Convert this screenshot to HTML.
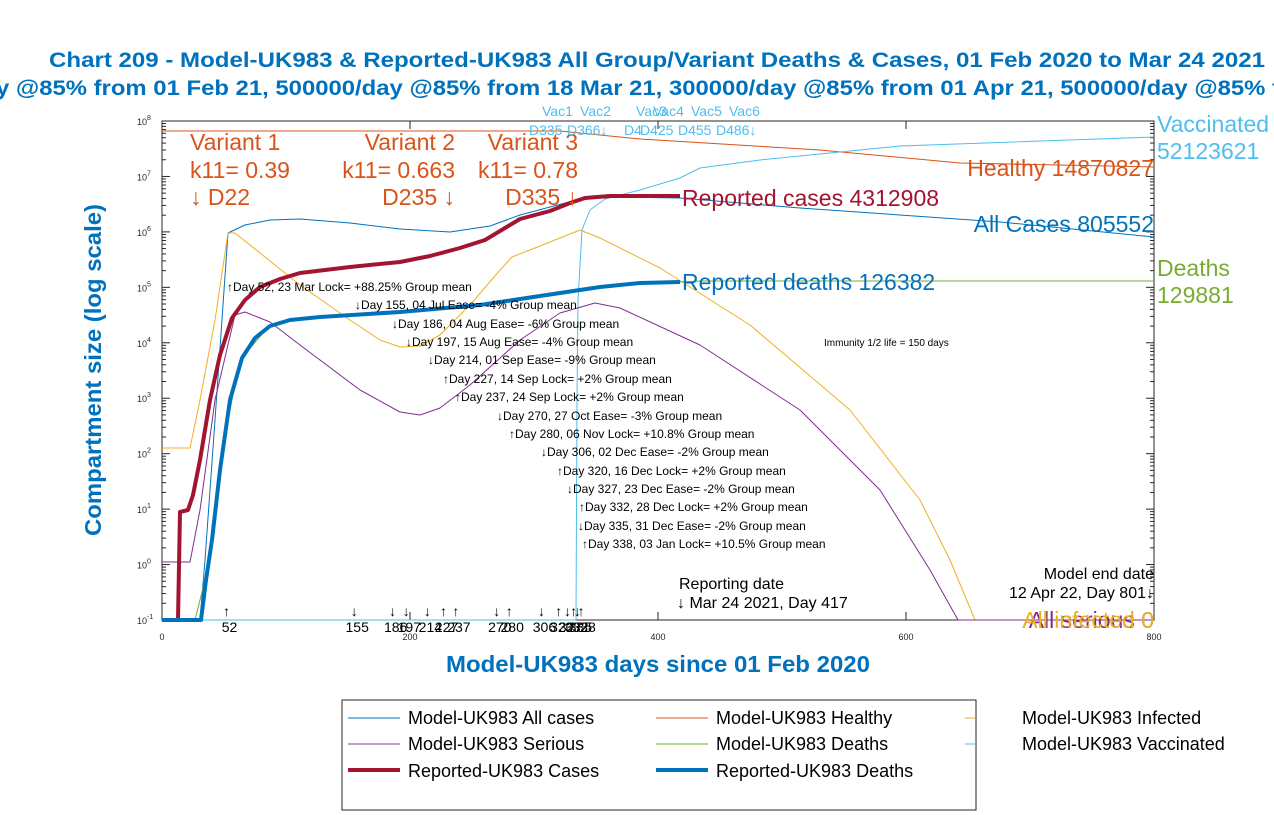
<!DOCTYPE html>
<html><head><meta charset="utf-8"><style>
body{margin:0;background:#fff}
svg{display:block;font-family:"Liberation Sans",sans-serif}
</style></head><body>
<svg id="s" width="1274" height="815" viewBox="0 0 1274 815" xmlns="http://www.w3.org/2000/svg">
<rect width="1274" height="815" fill="#fff"/>
<text x="49" y="67" font-size="21" font-weight="bold" fill="#0072bd" textLength="1216" lengthAdjust="spacingAndGlyphs">Chart 209 - Model-UK983 &amp; Reported-UK983 All Group/Variant Deaths &amp; Cases, 01 Feb 2020 to Mar 24 2021</text>
<text x="-4" y="95" font-size="21" font-weight="bold" fill="#0072bd" textLength="1284" lengthAdjust="spacingAndGlyphs">y @85% from 01 Feb 21, 500000/day @85% from 18 Mar 21, 300000/day @85% from 01 Apr 21, 500000/day @85% f</text>

<g id="ax" stroke="#262626" stroke-width="1" fill="none">
<rect x="162" y="121" width="992" height="499"/>
</g>
<g font-size="9" fill="#262626" id="ylab"></g>
<g font-size="9" fill="#262626" text-anchor="middle">
<text x="162" y="640">0</text><text x="410" y="640">200</text><text x="658" y="640">400</text><text x="906" y="640">600</text><text x="1154" y="640">800</text>
</g>

<g fill="none" stroke-linejoin="round">
<polyline stroke="#d95319" stroke-width="1" points="162,131 560,131 640,139 820,150 960,163 1154,167"/>
<polyline stroke="#4dbeee" stroke-width="1" points="162,620 576,620 577,400 578,300 582,230 590,210 605,199 640,190 680,178 700,168 760,160 900,146 1154,137"/>
<polyline stroke="#0072bd" stroke-width="1" points="200,620 205,560 215,420 228,233 245,225 270,220 300,219 350,223 400,229 450,232 490,226 520,215 550,207 580,199 620,197 680,198 800,208 1000,222 1154,237"/>
<polyline stroke="#edb120" stroke-width="1" points="162,448 190,448 200,400 215,320 228,233 235,233 250,245 300,285 350,320 380,340 400,347 420,346 440,335 470,305 500,270 512,257 540,246 580,230 600,238 660,268 750,325 850,410 920,500 950,560 975,620 1154,620"/>
<polyline stroke="#7e2f8e" stroke-width="1" points="162,562 190,562 200,510 215,400 235,315 245,312 270,322 300,345 360,390 400,412 420,415 440,408 470,385 520,340 560,313 595,303 620,308 700,345 800,410 880,490 930,570 958,620 1154,620"/>
<polyline stroke="#77ac30" stroke-width="1" points="195,620 210,560 220,460 240,360 270,325 300,318 400,312 480,305 540,296 580,290 640,284 700,281 1154,281"/>
<polyline stroke="#a2142f" stroke-width="4" points="178,620 180,512 188,510 193,495 200,460 210,400 220,355 232,318 245,300 260,287 280,279 300,273 350,267 400,262 430,256 460,248 485,240 505,228 520,219 550,211 570,203 585,198 610,196 640,196 680,196"/>
<polyline stroke="#0072bd" stroke-width="4" points="162,620 201,620 206,580 212,540 220,470 230,400 242,358 255,338 270,326 290,320 320,317 400,312 480,305 540,296 580,290 600,287 640,283 680,282"/>
</g>

<g font-size="23" fill="#d95319">
<text x="190" y="150">Variant 1</text><text x="190" y="178">k11= 0.39</text><text x="190" y="205">↓ D22</text>
<g text-anchor="end"><text x="455" y="150">Variant 2</text><text x="455" y="178">k11= 0.663</text><text x="455" y="205">D235 ↓</text>
<text x="578" y="150">Variant 3</text><text x="578" y="178">k11= 0.78</text><text x="578" y="205">D335 ↓</text></g>
</g>
<g font-size="14" fill="#4dbeee">
<text x="542" y="116">Vac1</text><text x="580" y="116">Vac2</text><text x="636" y="116">Vac3</text><text x="653" y="116">Vac4</text><text x="691" y="116">Vac5</text><text x="729" y="116">Vac6</text>
<text x="529" y="135">D335</text><text x="567" y="135">D366↓</text><text x="624" y="135">D4</text><text x="640" y="135">D425</text><text x="678" y="135">D455</text><text x="716" y="135">D486↓</text>
</g>
<g font-size="23">
<text x="682" y="206" fill="#a2142f">Reported cases 4312908</text>
<text x="682" y="290" fill="#0072bd">Reported deaths 126382</text>
<text x="1157" y="132" fill="#4dbeee">Vaccinated</text><text x="1157" y="159" fill="#4dbeee">52123621</text>
<text x="1154" y="176" fill="#d95319" text-anchor="end">Healthy 14870827</text>
<text x="1154" y="232" fill="#0072bd" text-anchor="end">All Cases 805552</text>
<text x="1157" y="276" fill="#77ac30">Deaths</text><text x="1157" y="303" fill="#77ac30">129881</text>
<text x="1154" y="628" fill="#7e2f8e" text-anchor="end">All serious 0</text>
<text x="1154" y="628" fill="#edb120" text-anchor="end">All infected 0</text>
</g>
<g font-size="12" fill="#000">
<text x="227" y="291">↑Day 52, 23 Mar Lock= +88.25% Group mean</text>
<text x="355" y="309">↓Day 155, 04 Jul Ease= -4% Group mean</text>
<text x="392" y="328">↓Day 186, 04 Aug Ease= -6% Group mean</text>
<text x="406" y="346">↓Day 197, 15 Aug Ease= -4% Group mean</text>
<text x="428" y="364">↓Day 214, 01 Sep Ease= -9% Group mean</text>
<text x="443" y="383">↑Day 227, 14 Sep Lock= +2% Group mean</text>
<text x="455" y="401">↑Day 237, 24 Sep Lock= +2% Group mean</text>
<text x="497" y="420">↓Day 270, 27 Oct Ease= -3% Group mean</text>
<text x="509" y="438">↑Day 280, 06 Nov Lock= +10.8% Group mean</text>
<text x="541" y="456">↓Day 306, 02 Dec Ease= -2% Group mean</text>
<text x="557" y="475">↑Day 320, 16 Dec Lock= +2% Group mean</text>
<text x="567" y="493">↓Day 327, 23 Dec Ease= -2% Group mean</text>
<text x="579" y="511">↑Day 332, 28 Dec Lock= +2% Group mean</text>
<text x="578" y="530">↓Day 335, 31 Dec Ease= -2% Group mean</text>
<text x="582" y="548">↑Day 338, 03 Jan Lock= +10.5% Group mean</text>
<text x="824" y="346" font-size="10">Immunity 1/2 life = 150 days</text>
</g>
<g font-size="16" fill="#000">
<text x="679" y="589">Reporting date</text><text x="677" y="608">↓ Mar 24 2021, Day 417</text>
<text x="1154" y="579" text-anchor="end">Model end date</text><text x="1154" y="598" text-anchor="end">12 Apr 22, Day 801↓</text>
</g>
<g font-size="14" fill="#000" id="bt"></g>

<text transform="translate(101,370) rotate(-90)" text-anchor="middle" font-size="23" font-weight="bold" fill="#0072bd" textLength="332" lengthAdjust="spacingAndGlyphs">Compartment size (log scale)</text>
<text x="446" y="672" font-size="23" font-weight="bold" fill="#0072bd" textLength="424" lengthAdjust="spacingAndGlyphs">Model-UK983 days since 01 Feb 2020</text>

<rect x="342" y="700" width="634" height="110" fill="#fff" stroke="#262626"/>
<g stroke-width="1">
<line x1="348" y1="718" x2="400" y2="718" stroke="#0072bd"/>
<line x1="348" y1="744" x2="400" y2="744" stroke="#c49ccb" stroke-width="2"/>
<line x1="348" y1="770" x2="400" y2="770" stroke="#a2142f" stroke-width="4"/>
<line x1="656" y1="718" x2="708" y2="718" stroke="#d95319"/>
<line x1="656" y1="744" x2="708" y2="744" stroke="#b8d890" stroke-width="2"/>
<line x1="656" y1="770" x2="708" y2="770" stroke="#0072bd" stroke-width="4"/>
<line x1="965" y1="718" x2="975" y2="718" stroke="#edb120"/>
<line x1="965" y1="744" x2="975" y2="744" stroke="#a8dcf3" stroke-width="2"/>
</g>
<g font-size="18" fill="#000">
<text x="408" y="724">Model-UK983 All cases</text><text x="408" y="750">Model-UK983 Serious</text><text x="408" y="777">Reported-UK983 Cases</text>
<text x="716" y="724">Model-UK983 Healthy</text><text x="716" y="750">Model-UK983 Deaths</text><text x="716" y="777">Reported-UK983 Deaths</text>
<text x="1022" y="724">Model-UK983 Infected</text><text x="1022" y="750">Model-UK983 Vaccinated</text>
</g>
<script>
var s=document.getElementById('ax'),yl=document.getElementById('ylab'),bt=document.getElementById('bt'),N='http://www.w3.org/2000/svg';
function el(p,t,a,tx){var e=document.createElementNS(N,t);for(var k in a)e.setAttribute(k,a[k]);if(tx)e.textContent=tx;p.appendChild(e);return e;}
var d=499/9;
for(var i=0;i<=9;i++){var y=620-i*d;
 el(s,'line',{x1:162,y1:y,x2:170,y2:y});el(s,'line',{x1:1154,y1:y,x2:1146,y2:y});
 var t=el(yl,'text',{x:137,y:y+4},'10');el(t,'tspan',{dy:-5,'font-size':7},String(i-1));
 if(i<9)for(var m=2;m<10;m++){var yy=y-Math.log10(m)*d;el(s,'line',{x1:162,y1:yy,x2:166,y2:yy});el(s,'line',{x1:1154,y1:yy,x2:1150,y2:yy});}
}
for(var x=0;x<=800;x+=200){var X=162+x*1.24;el(s,'line',{x1:X,y1:620,x2:X,y2:612});el(s,'line',{x1:X,y1:121,x2:X,y2:129});}
var days=[[52,1],[155,0],[186,0],[197,0],[214,0],[227,1],[237,1],[270,0],[280,1],[306,0],[320,1],[327,0],[332,1],[335,0],[338,1]];
days.forEach(function(a){var X=162+a[0]*1.24;el(bt,'text',{x:X,y:616,'text-anchor':'middle'},a[1]?'↑':'↓');el(bt,'text',{x:X+3,y:632,'text-anchor':'middle','font-size':14},String(a[0]));});
</script>
</svg>
</body></html>
